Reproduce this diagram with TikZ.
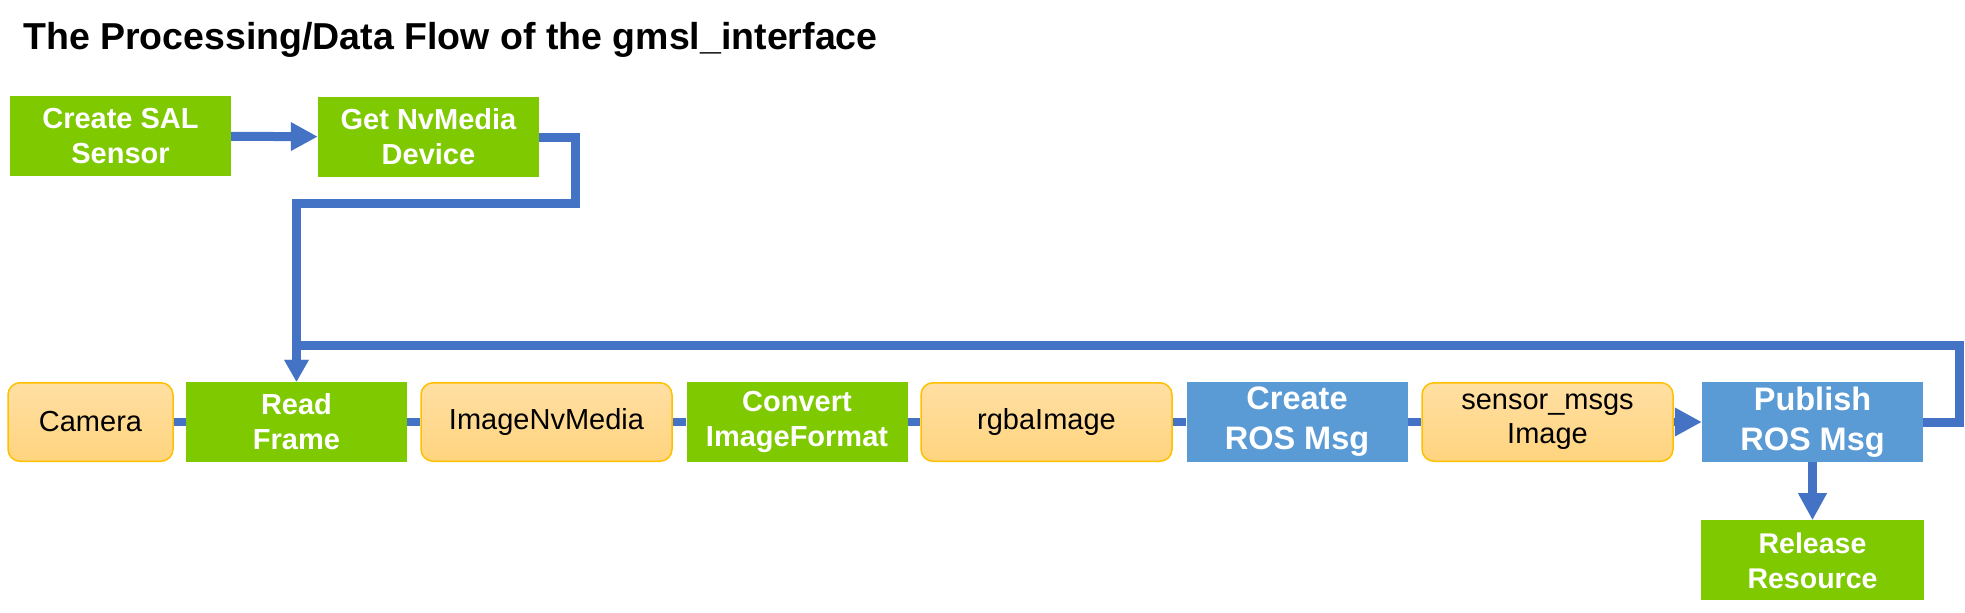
\documentclass[tikz,border=0pt]{standalone}
\usepackage{fontspec}
\setmainfont{Liberation Sans}
\usetikzlibrary{arrows.meta, positioning}
\definecolor{nvgreen}{HTML}{7FC900}
\definecolor{rosblue}{HTML}{5B9BD5}
\definecolor{flowblue}{HTML}{4472C4}
\definecolor{datatop}{HTML}{FFDFA3}
\definecolor{databot}{HTML}{FFD47E}
\definecolor{dataedge}{HTML}{FFC000}
\tikzset{
  stepbox/.style={fill=nvgreen, text=white, align=center, inner sep=0pt,
    minimum width=221pt, minimum height=80pt,
    font=\fontsize{29}{35}\selectfont\bfseries},
  rosbox/.style={stepbox, fill=rosblue, font=\fontsize{32.5}{40}\selectfont\bfseries},
  databox/.style={draw=dataedge, line width=1.5pt, rounded corners=12pt,
    top color=datatop, bottom color=databot, align=center, inner sep=0pt,
    minimum width=251pt, minimum height=78.5pt,
    font=\fontsize{29}{34}\selectfont},
  flow/.style={draw=flowblue, line width=9pt},
  link/.style={draw=flowblue, line width=8pt},
  tip/.style={-{Triangle[length=27pt,width=27pt]}},
  smalltip/.style={-{Triangle[length=22pt,width=23pt]}}
}
\begin{document}
\begin{tikzpicture}[x=1pt,y=-1pt]
\useasboundingbox (0,0) rectangle (1965,613);
\node[anchor=base west, inner sep=0pt, font=\fontsize{37.5}{40}\selectfont\bfseries]
  (title) at (23,49) {The Processing/Data Flow of the gmsl\_interface};
% setup
\node[stepbox] (sal) at (120.5,136) {Create SAL\\Sensor};
\node[stepbox] (nvdev) at (428.5,137) {Get NvMedia\\Device};
% main row
\node[databox, minimum width=165pt] (camera) at (90.5,422) {Camera};
\node[stepbox] (read) at (296.5,422) {Read\\Frame};
\node[databox] (imgnv) at (546.5,422) {ImageNvMedia};
\node[stepbox] (convert) at (797,422) {Convert\\ImageFormat};
\node[databox] (rgba) at (1046.5,422) {rgbaImage};
\node[rosbox] (create) at (1297,422) {Create\\ROS Msg};
\node[databox] (sensor) at (1547.5,422) {sensor\_msgs\\Image};
\node[rosbox] (publish) at (1812.5,422) {Publish\\ROS Msg};
\node[stepbox, below=58pt of publish, minimum width=223pt, font=\fontsize{28.5}{35}\selectfont\bfseries]
  (release) {Release\\Resource};
\coordinate (turn) at (575,203);
\coordinate (back) at (1959,345);
% connectors
\draw[flow, tip] (sal) -- (nvdev);
\draw[flow, smalltip] (nvdev.east) -| (turn) -| (read.north);
\draw[flow, smalltip] (publish.east) -| (back) -| (read.north);
\draw[link] (camera) -- (read);
\draw[link] (read) -- (imgnv);
\draw[link] (imgnv) -- (convert);
\draw[link] (convert) -- (rgba);
\draw[link] (rgba) -- (create);
\draw[link] (create) -- (sensor);
\draw[link, tip] (sensor) -- (publish);
\draw[flow, tip] (publish) -- (release);
\end{tikzpicture}
\end{document}
